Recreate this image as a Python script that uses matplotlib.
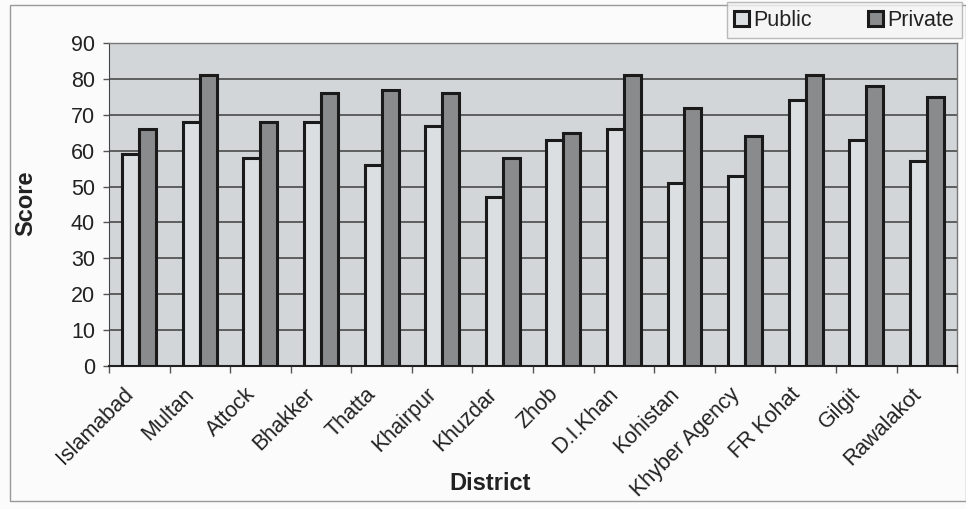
import numpy as np
import matplotlib
matplotlib.use("Agg")
import matplotlib.pyplot as plt
from matplotlib.patches import Rectangle
from matplotlib.transforms import ScaledTranslation

plt.rcParams['font.family'] = ['Liberation Sans', 'DejaVu Sans']

districts = ['Islamabad', 'Multan', 'Attock', 'Bhakker', 'Thatta', 'Khairpur',
             'Khuzdar', 'Zhob', 'D.I.Khan', 'Kohistan', 'Khyber Agency',
             'FR Kohat', 'Gilgit', 'Rawalakot']
public = [59, 68, 58, 68, 56, 67, 47, 63, 66, 51, 53, 74, 63, 57]
private = [66, 81, 68, 76, 77, 76, 58, 65, 81, 72, 64, 81, 78, 75]

fig = plt.figure(figsize=(9.66, 5.09), dpi=100)
fig.patch.set_facecolor('#fbfbfb')
ax = fig.add_axes([0.1128, 0.281, 0.878, 0.6345])
ax.set_facecolor('#d3d6d9')

x = np.arange(len(districts))
w = 0.28
ax.bar(x - w / 2, public, w, color='#dcdfe2', edgecolor='#1a1a1a',
       linewidth=2.2, label='Public', zorder=3)
ax.bar(x + w / 2, private, w, color='#8a8b8d', edgecolor='#1a1a1a',
       linewidth=2.2, label='Private', zorder=3)

ax.set_ylim(0, 90)
ax.set_yticks(range(0, 91, 10))
ax.set_xlim(-0.5, len(districts) - 0.5)
ax.yaxis.grid(True, color='#4a4a4a', linewidth=1.2, zorder=1)

# ticks between the categories, labels under the centres
ax.set_xticks(np.arange(-0.5, len(districts), 1.0))
ax.set_xticklabels([])
ax.tick_params(axis='x', which='major', length=5, width=1, color='#555555')
ax.set_xticks(x, minor=True)
ax.set_xticklabels(districts, minor=True, rotation=45, ha='right',
                   rotation_mode='anchor', fontsize=15.5, color='#222222')
ax.tick_params(axis='x', which='minor', length=0, pad=12)
shift = ScaledTranslation(-0.16, -0.01, fig.dpi_scale_trans)
for lbl in ax.get_xticklabels(minor=True):
    lbl.set_transform(lbl.get_transform() + shift)
ax.tick_params(axis='y', length=4, width=1, color='#555555',
               labelsize=15.5, labelcolor='#222222', pad=6)

for side in ['top', 'right']:
    ax.spines[side].set_color('#777777')
    ax.spines[side].set_linewidth(1)
ax.spines['left'].set_color('#444444')
ax.spines['bottom'].set_color('#222222')
ax.spines['bottom'].set_linewidth(1.5)

ax.set_ylabel('Score', fontsize=17, fontweight='bold', color='#222222')
ax.yaxis.set_label_coords(-0.084, 0.505)
ax.set_xlabel('District', fontsize=17, fontweight='bold', color='#222222')
ax.xaxis.set_label_coords(0.449, -0.328)

leg = fig.legend(loc='upper right', bbox_to_anchor=(0.998, 1.0), ncol=2,
                 fontsize=15.5, frameon=True, fancybox=False,
                 borderaxespad=0.1,
                 handlelength=0.7, handleheight=0.7, handletextpad=0.2,
                 columnspacing=2.6, borderpad=0.35)
leg.get_frame().set_edgecolor('#aaaaaa')
leg.get_frame().set_facecolor('#f4f4f4')
leg.get_frame().set_linewidth(1)
for t in leg.get_texts():
    t.set_color('#222222')

# outer chart border
fig.patches.append(Rectangle((0.01, 0.015), 0.99, 0.975,
                             transform=fig.transFigure, fill=False,
                             edgecolor='#999999', linewidth=1))

fig.savefig('out.png', dpi=100, facecolor=fig.get_facecolor())
